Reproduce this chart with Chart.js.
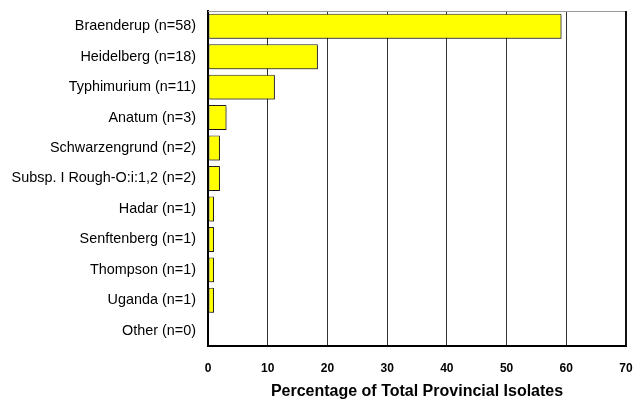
<!DOCTYPE html>
<html>
<head>
<meta charset="utf-8">
<script src="https://cdn.jsdelivr.net/npm/chart.js@4/dist/chart.umd.min.js"></script>
<style>
  html, body { margin: 0; padding: 0; background: #fff; }
  #wrap { width: 635px; height: 401px; }
</style>
</head>
<body>
<div id="wrap"><canvas id="myChart" width="635" height="401"></canvas></div>
<script>
const serotypes = [
  'Braenderup (n=58)', 'Heidelberg (n=18)', 'Typhimurium (n=11)', 'Anatum (n=3)',
  'Schwarzengrund (n=2)', 'Subsp. I Rough-O:i:1,2 (n=2)', 'Hadar (n=1)',
  'Senftenberg (n=1)', 'Thompson (n=1)', 'Uganda (n=1)', 'Other (n=0)'
];
const percentages = [59.2, 18.4, 11.2, 3.1, 2.0, 2.0, 1.0, 1.0, 1.0, 1.0, 0];
const xTicks = [0, 10, 20, 30, 40, 50, 60, 70];
const xTitle = 'Percentage of Total Provincial Isolates';

// bar shadow + gray top edge of the plot frame
const frameAndShadow = {
  id: 'frameAndShadow',
  beforeDatasetsDraw(chart) {
    const ctx = chart.ctx;
    ctx.save();
    ctx.shadowColor = 'rgba(0,0,0,0.35)';
    ctx.shadowOffsetX = 1.5;
    ctx.shadowOffsetY = 1.5;
    ctx.shadowBlur = 0;
  },
  afterDatasetsDraw(chart) {
    chart.ctx.restore();
  },
  afterDraw(chart) {
    const { ctx, chartArea } = chart;
    ctx.save();
    ctx.strokeStyle = '#999';
    ctx.lineWidth = 1;
    ctx.beginPath();
    ctx.moveTo(chartArea.left, chartArea.top + 0.5);
    ctx.lineTo(chartArea.right, chartArea.top + 0.5);
    ctx.stroke();
    ctx.strokeStyle = '#111';
    ctx.lineWidth = 2;
    ctx.beginPath();
    ctx.moveTo(chartArea.right, chartArea.top);
    ctx.lineTo(chartArea.right, chartArea.bottom);
    ctx.stroke();
    ctx.restore();
  }
};

const ctx = document.getElementById('myChart').getContext('2d');
new Chart(ctx, {
  type: 'bar',
  data: {
    labels: serotypes,
    datasets: [{
      data: percentages,
      backgroundColor: '#ffff00',
      borderColor: '#222',
      borderWidth: 1,
      borderSkipped: false,
      categoryPercentage: 0.82,
      barPercentage: 1
    }]
  },
  options: {
    indexAxis: 'y',
    responsive: false,
    animation: false,
    layout: { padding: { top: 11, right: 9, left: 0, bottom: 0 } },
    plugins: {
      legend: { display: false },
      tooltip: { enabled: false }
    },
    scales: {
      x: {
        min: 0,
        max: 70,
        afterBuildTicks(scale) {
          scale.ticks = xTicks.map(v => ({ value: v }));
        },
        afterFit(scale) {
          scale.height = 55;
          scale.paddingLeft = 0;
          scale.paddingRight = 0;
        },
        grid: { color: '#333', lineWidth: 1, drawTicks: false },
        border: { color: '#000', width: 2 },
        ticks: {
          padding: 15,
          color: '#000',
          font: { family: 'Liberation Sans, Arial, sans-serif', size: 12, weight: 'bold' }
        },
        title: {
          display: true,
          text: xTitle,
          color: '#000',
          padding: { top: 2, bottom: 0 },
          font: { family: 'Liberation Sans, Arial, sans-serif', size: 16, weight: 'bold' }
        }
      },
      y: {
        afterFit(scale) {
          scale.width = 208;
          scale.paddingTop = 0;
          scale.paddingBottom = 0;
        },
        grid: { display: false, drawTicks: false },
        border: { color: '#000', width: 2 },
        ticks: {
          padding: 12,
          color: '#000',
          font: { family: 'Liberation Sans, Arial, sans-serif', size: 14.4 }
        }
      }
    }
  },
  plugins: [frameAndShadow]
});
</script>
</body>
</html>
